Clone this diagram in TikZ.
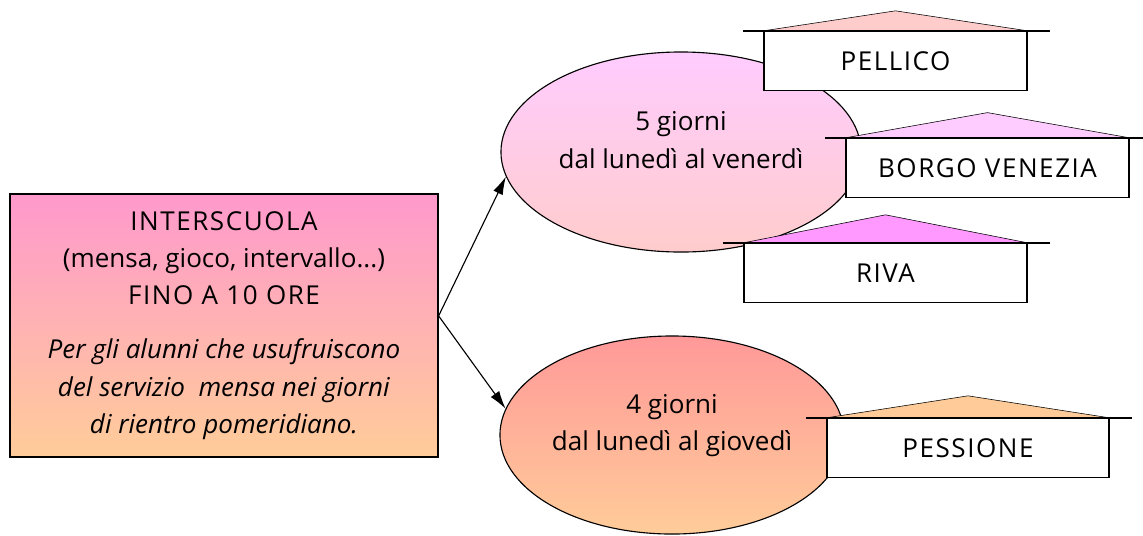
\documentclass[tikz,border=0pt]{standalone}
\usepackage{fontspec}
\setmainfont{Open Sans}
\usetikzlibrary{shapes.geometric,arrows.meta}

\definecolor{pinktop}{HTML}{FF99CC}
\definecolor{peach}{HTML}{FFCC99}
\definecolor{lilac}{HTML}{FFCCFF}
\definecolor{blush}{HTML}{FFCCCC}
\definecolor{salmon}{HTML}{FF9999}
\definecolor{violet}{HTML}{FF99FF}

\newcommand{\wide}{\addfontfeature{LetterSpace=6}}

\begin{document}
\begin{tikzpicture}
      [%%%%%%%%%%%%%%%%%%%%%%%%%%%%%%
      x=0.025cm, y=-0.025cm,
      txt/.style={font=\fontsize{18.5}{26.5}\selectfont},
      leftbox/.style={rectangle,draw=black,thick,txt,align=center,top color=pinktop,bottom color=peach,minimum width=10.7cm,minimum height=6.575cm},
      blob/.style={ellipse,draw=black,thick,inner sep=0pt},
      school/.style={rectangle,draw=black,thick,fill=white,txt,minimum height=1.48cm},
      link/.style={-{Latex[length=4.5mm,width=2.6mm]},thick},
      ]%%%%%%%%%%%%%%%%%%%%%%%%%%%%%%
      \useasboundingbox (0,0) rectangle (1143,535);

      \node[leftbox] (inter) at (224,325.5)
        {{\wide INTERSCUOLA}\\(mensa, gioco, intervallo...)\\{\wide FINO A 10 ORE}\\[12pt]
         \textit{Per gli alunni che usufruiscono}\\\textit{del servizio\ \ mensa nei giorni}\\\textit{di rientro pomeridiano.}};

      % the two day groups
      \node[blob,top color=lilac,bottom color=blush,minimum width=9cm,minimum height=5cm] (five) at (681,152) {};
      \node[txt,align=center] (fivetxt) at ([yshift=0.3cm]five.center) {5 giorni\\dal lunedì al venerdì};
      \node[blob,top color=salmon,bottom color=peach,minimum width=8.6cm,minimum height=4.95cm] (four) at (672,435) {};
      \node[txt,align=center] (fourtxt) at ([yshift=0.24cm]four.center) {4 giorni\\dal lunedì al giovedì};

      \coordinate (fork) at ([yshift=0.24cm]inter.east);
      \draw[link] (fork) -- (five.188);
      \draw[link] (fork) -- (four.171);

      % schools
      \node[school,minimum width=6.575cm] (pellico) at (895.5,61) {\wide PELLICO};
      \node[school,minimum width=7.075cm] (borgo) at (987.5,168) {\wide BORGO VENEZIA};
      \node[school,minimum width=7.075cm] (riva) at (885.5,273) {\wide RIVA};
      \node[school,minimum width=7.05cm] (pessione) at (968,448) {\wide PESSIONE};

      \foreach \n/\h/\c in {pellico/0.5/blush,borgo/0.63/lilac,riva/0.7/violet,pessione/0.55/peach}{
        \filldraw[fill=\c,draw=black,thin] (\n.north west) -- ([yshift=\h cm]\n.north) -- (\n.north east) -- cycle;
        \draw[line width=1.4pt] ([xshift=-0.5cm]\n.north west) -- ([xshift=0.55cm]\n.north east);
      }
    \end{tikzpicture}
\end{document}
